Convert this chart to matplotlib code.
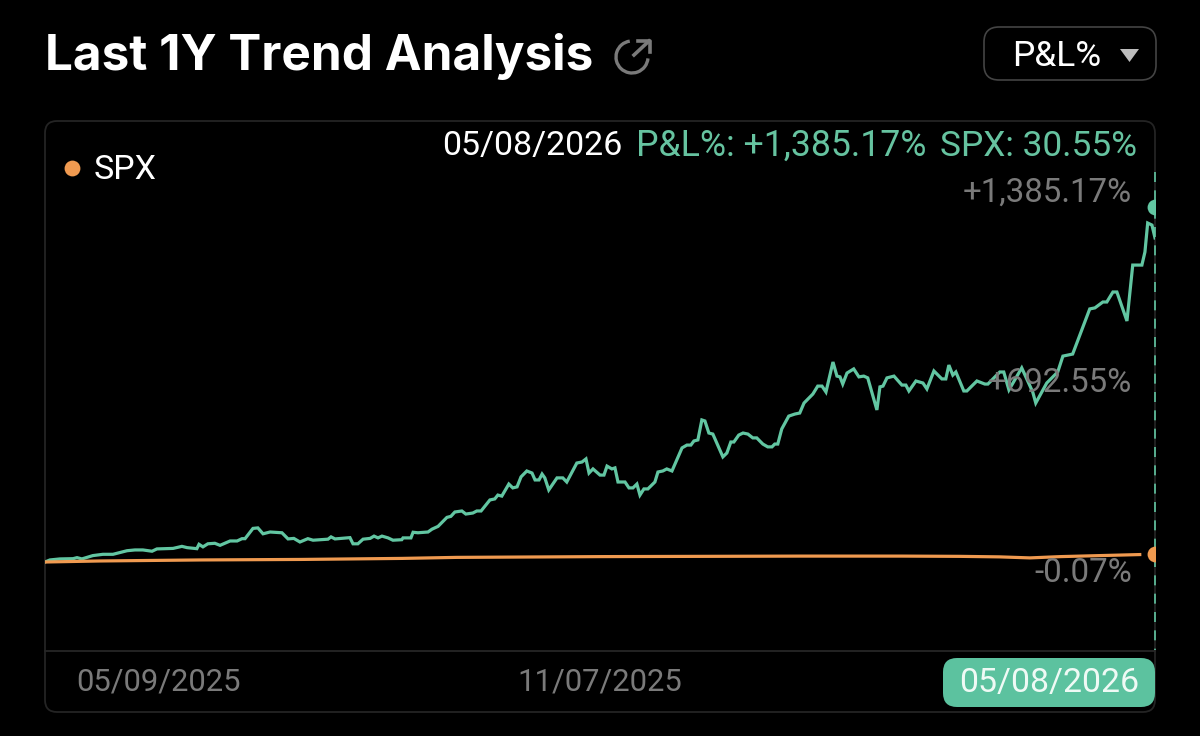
import matplotlib
matplotlib.use("Agg")
import matplotlib.pyplot as plt
from matplotlib.patches import FancyBboxPatch, Arc, Polygon

plt.rcParams['font.family'] = ['Roboto', 'DejaVu Sans']

# Calendar days since 05/09/2025 and cumulative return in %
pnl_day = [0,1.6,4.9,9.2,10.5,12.1,15.7,19,22.3,26.9,29.5,32.1,35.1,36.7,42,44.9,46.6,49.8,50.5,51.8,53.4,55.7,57.4,60.7,63,64.6,65.6,68.2,69.8,71.5,73.8,77.7,79.7,81.6,83.6,86.2,87.9,92.8,93.8,95.1,100,101,102.6,104.3,106.6,107.9,109.2,110.5,112.5,114.1,117,117.4,120,120.7,122.3,125.6,126.9,128.9,131.8,133.1,134.4,136.7,138,140.3,141.6,143,145.9,147.5,148.5,149.8,152.1,153.4,154.8,156.1,158,159.7,160.7,162,163,163.9,165.2,167.9,169.8,171.1,174.4,176.1,177.4,178.4,179.7,182,183.3,184.3,185.9,186.9,187.9,190.2,191.5,192.8,194.1,195.1,196.4,197.7,200,201,202.6,203.9,205.6,208.9,210.5,211.8,212.8,214.1,215.4,216.4,217.7,219,222.3,223.6,224.9,225.9,227.5,228.9,230.5,232.1,233.4,235.4,237,238.4,239.3,240.3,241.6,243.9,245.9,247.5,248.9,251.8,253.4,254.8,256.1,258.4,259.7,260.7,261.6,263,265.2,266.9,268.5,269.8,272.8,273.8,274.8,276.1,278.4,281,282.3,283.3,285.6,287.9,289.2,291.5,294.1,295.4,296.4,297.7,298.7,301.3,302.3,305.6,308.2,309.2,313.1,314.4,316.1,320.3,323.9,324.9,328.5,332.1,333.8,337,342.6,344.3,346.9,348.2,350.2,351.5,354.8,356.7,359.7,360.7,361.6,363,364]
pnl_pct = [0,8,12,13,17,12,25,30,30,44,47,47,42,51,53,61,56,52,69,59,71,73,65,82,82,91,91,131,133,110,117,114,90,92,78,91,85,89,98,90,95,71,71,89,92,101,94,101,94,85,87,94,94,116,114,117,128,139,174,178,195,199,187,191,199,199,242,246,261,257,304,289,293,332,355,347,320,320,343,328,281,328,328,312,386,390,402,347,363,339,339,374,363,367,312,312,289,289,304,261,285,285,312,351,355,363,355,445,456,456,472,476,554,550,503,499,410,425,468,468,495,503,499,484,484,460,449,449,460,460,519,569,577,581,620,655,686,686,663,780,725,722,694,737,753,722,725,718,593,683,686,718,725,690,690,667,706,698,675,745,714,714,768,729,741,667,667,706,694,694,741,741,671,757,663,620,698,741,803,811,987,991,1014,1014,1053,1053,940,1158,1158,1209,1322,1314,1264]
spx_day = [0,18,51,84,117,135,182,215,248,281,300,313,323,333,359]
spx_pct = [0,4,8,10,14,18,21,22,23,23,22,20,16,21,29]

last_pnl = 1385.17
last_spx = 30.55
y_tick_values = ["+1,385.17%", "+692.55%", "-0.07%"]
x_tick_labels = ["05/09/2025", "11/07/2025"]
last_date = "05/08/2026"
series_name = "SPX"
title = "Last 1Y Trend Analysis"

GREEN = "#62C6A2"
TXT_GREEN = "#66C3A0"
ORANGE = "#F09A50"
GRAY = "#7A7A7A"
W, H = 1200, 736

fig = plt.figure(figsize=(12, 7.36), dpi=100, facecolor="black")

# Chrome layer in pixel coordinates
bg = fig.add_axes([0, 0, 1, 1])
bg.set_xlim(0, W); bg.set_ylim(H, 0); bg.axis("off")
bg.add_patch(FancyBboxPatch((45, 121), 1110, 591, boxstyle="round,pad=0,rounding_size=12",
                            fc="black", ec="#242424", lw=1.3))
bg.plot([45, 1155], [651, 651], color="#262626", lw=1.3)

# Chart
top, bot = 120, 650
ax = fig.add_axes([45 / W, 1 - bot / H, 1110 / W, (bot - top) / H])
ax.patch.set_alpha(0)
ax.set_xlim(0, 364)
ax.set_ylim((562 - bot) * 3.9, (562 - top) * 3.9)
ax.axis("off")
ax.plot(pnl_day, pnl_pct, color=GREEN, lw=2.3, solid_joinstyle="miter", zorder=3)
ax.plot(spx_day, spx_pct, color=ORANGE, lw=2.3, zorder=4)
ax.plot([364, 364], [(562 - 172) * 3.9, (562 - 650) * 3.9], color=GREEN, lw=1.2,
        ls=(0, (6, 5)), zorder=2, clip_on=False)
ax.scatter([364], [last_pnl], s=130, color=GREEN, zorder=5, clip_on=True, lw=0)
ax.scatter([364], [last_spx], s=130, color=ORANGE, zorder=5, clip_on=True, lw=0)

# Overlay text
ov = fig.add_axes([0, 0, 1, 1])
ov.patch.set_alpha(0)
ov.set_xlim(0, W); ov.set_ylim(H, 0); ov.axis("off")

ov.text(45, 57, title, color="white", fontsize=35.6, fontweight="bold", va="center", ha="left",
        family=["Inter", "DejaVu Sans"])

# share icon
ov.add_patch(Arc((632, 57), 32, 32, theta1=5, theta2=262, color=GRAY, lw=2.4))
ov.plot([634, 649], [55, 41], color=GRAY, lw=2.6)
ov.plot([638, 649.5, 649.5], [41, 41, 52], color=GRAY, lw=2.6)

# dropdown
ov.add_patch(FancyBboxPatch((984, 27), 172, 53, boxstyle="round,pad=0,rounding_size=15",
                            fc="black", ec="#444444", lw=1.2))
ov.text(1057, 56, "P&L%", color="white", fontsize=25.5, va="center", ha="center")
ov.add_patch(Polygon([[1120, 49], [1139, 49], [1129.5, 62]], closed=True, fc="#BDBDBD", ec="none"))

# header readout
ov.text(1137, 146, f"SPX: {last_spx:.2f}%", color=TXT_GREEN, fontsize=25.4, va="center", ha="right")
ov.text(926, 146, f"P&L%: +{last_pnl:,.2f}%", color=TXT_GREEN, fontsize=25.7, va="center", ha="right")
ov.text(623, 146, last_date, color="white", fontsize=24.5, va="center", ha="right")

# legend
ov.scatter([72], [168], s=130, color=ORANGE, lw=0)
ov.text(94, 170, series_name, color="white", fontsize=24.5, va="center", ha="left")

# y labels
for lab, y in zip(y_tick_values, [193, 383, 573]):
    ov.text(1132, y, lab, color=GRAY, fontsize=23.8, va="center", ha="right")

# x labels
for lab, x in zip(x_tick_labels, [159, 600]):
    ov.text(x, 682, lab, color=GRAY, fontsize=22.3, va="center", ha="center")

ov.add_patch(FancyBboxPatch((943, 658), 212, 49, boxstyle="round,pad=0,rounding_size=14",
                            fc="#5CC29F", ec="none"))
ov.text(1049.5, 683, last_date, color="#EFFAF5", fontsize=24.4, va="center", ha="center")

fig.savefig("out.png", dpi=100, facecolor="black")
